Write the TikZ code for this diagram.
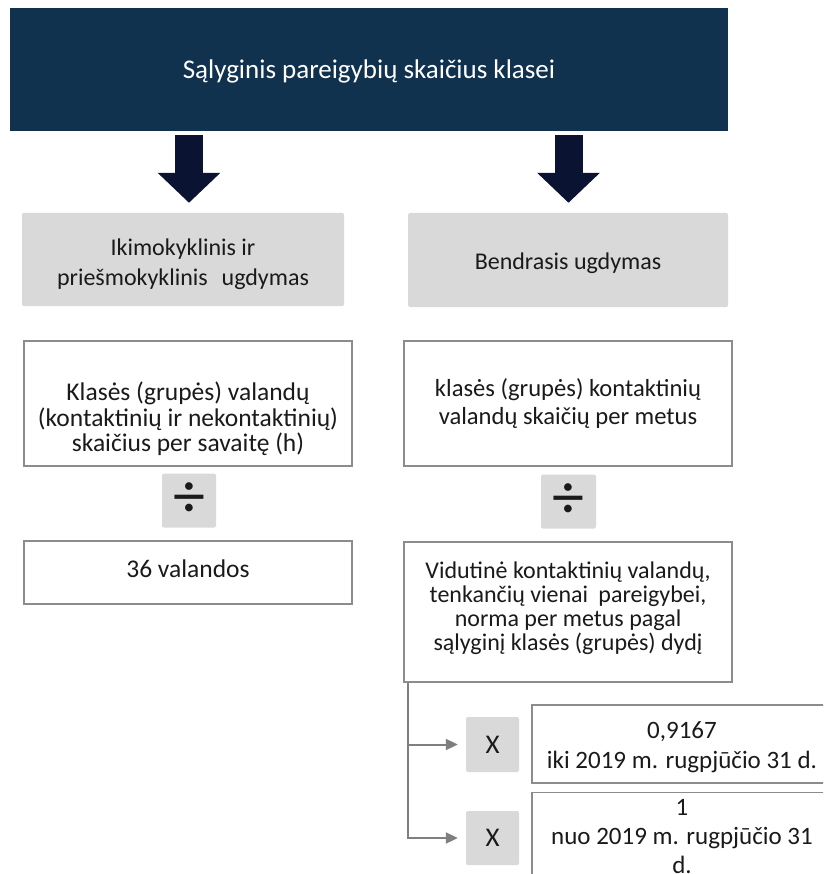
\documentclass[tikz,border=0pt]{standalone}
\usepackage{fontspec}
\setmainfont{Carlito}
\usetikzlibrary{arrows.meta}
\definecolor{navy}{HTML}{10324E}
\definecolor{arrowc}{HTML}{0B1333}
\definecolor{grayfill}{HTML}{D9D9D9}
\definecolor{bordc}{HTML}{8C8C8C}
\definecolor{lnc}{HTML}{7F7F7F}
\definecolor{txt}{HTML}{1A1A1A}
\newcommand{\boxtext}[2]{\raisebox{#1}[\height][\depth]{\begin{tabular}{@{}c@{}}#2\end{tabular}}}
\tikzset{
  whitebox/.style={draw=bordc, line width=1.2pt, fill=white, inner sep=0pt, text=txt},
  graybox/.style={fill=grayfill, rounded corners=1.5pt, inner sep=0pt, text=txt},
  opbox/.style={fill=grayfill, rounded corners=2pt, inner sep=0pt, text=txt},
  blockarrow/.style={arrowc, line width=28pt, -{Triangle[length=30pt,width=61pt]}, shorten <=4pt, shorten >=10pt},
  conn/.style={lnc, line width=2pt, -{Triangle[length=12pt,width=11pt]}},
  fs/.style 2 args={font=\fontsize{#1}{#2}\selectfont}
}
\begin{document}
\begin{tikzpicture}[x=1pt,y=-1pt]
\useasboundingbox (0,0) rectangle (823,874);
\clip (0,0) rectangle (823,874);
\fill[white] (0,0) rectangle (823,874);

\node[fill=navy, minimum width=718pt, minimum height=123pt, text=white,
      fs={27}{32}] (top) at (369,69.5) {\boxtext{-3pt}{Sąlyginis pareigybių skaičius klasei}};

\node[graybox, minimum width=322pt, minimum height=93pt, fs={24}{30}] (g1) at (183,259.5)
  {\boxtext{-4.5pt}{Ikimokyklinis ir\\priešmokyklinis\hspace{0.35em} ugdymas}};
\node[graybox, minimum width=320pt, minimum height=94pt, fs={24}{30}] (g2) at (568,260)
  {\boxtext{-3pt}{Bendrasis ugdymas}};

\node[whitebox, minimum width=328pt, minimum height=125pt, fs={25.5}{23.3}] (w1) at (188,403.5)
  {\boxtext{-17pt}{Klasės (grupės) valandų\\(kontaktinių ir nekontaktinių)\\skaičius per savaitę (h)}};
\node[whitebox, minimum width=328pt, minimum height=125pt, fs={24.6}{28.3}] (w2) at (568,403.5)
  {\boxtext{-1.5pt}{klasės (grupės) kontaktinių\\valandų skaičių per metus}};

\node[opbox, minimum width=54pt, minimum height=54pt, fs={64}{70}] (d1) at (189,500.5) {÷};
\node[opbox, minimum width=55pt, minimum height=54pt, fs={64}{70}] (d2) at (568.5,501.5) {÷};

\node[whitebox, minimum width=328pt, minimum height=63pt, fs={25.5}{23.3}] (h36) at (188,572.5)
  {\boxtext{0pt}{36 valandos}};
\node[whitebox, minimum width=328pt, minimum height=140pt, fs={24}{23.3}] (vid) at (568,612)
  {\boxtext{2pt}{Vidutinė kontaktinių valandų,\\tenkančių vienai\hspace{0.2em} pareigybei,\\norma per metus pagal\\sąlyginį klasės (grupės) dydį}};

\node[opbox, minimum width=53pt, minimum height=55pt, fs={27}{32}] (x1) at (492.5,744.5) {X};
\node[opbox, minimum width=53pt, minimum height=54pt, fs={27}{32}] (x2) at (492.5,838) {X};

\node[whitebox, minimum width=300pt, minimum height=78pt, fs={25}{30}] (v1) at (682,744)
  {\boxtext{-3.5pt}{0,9167\\iki 2019 m. rugpjūčio 31 d.}};
\node[whitebox, minimum width=300pt, minimum height=78pt, fs={25}{29}] (v2) at (682,836)
  {\boxtext{-2.5pt}{1\\nuo 2019 m. rugpjūčio 31\\d.}};

\draw[blockarrow] (top.south -| d1.north) -- (g1.north -| d1.north);
\draw[blockarrow] (top.south -| d2.north) -- (g2.north -| d2.north);

\draw[conn] ([xshift=5pt]vid.south west) |- ([xshift=-8pt]x1.west);
\draw[conn] ([xshift=5pt]vid.south west) |- ([xshift=-8pt]x2.west);
\end{tikzpicture}
\end{document}
